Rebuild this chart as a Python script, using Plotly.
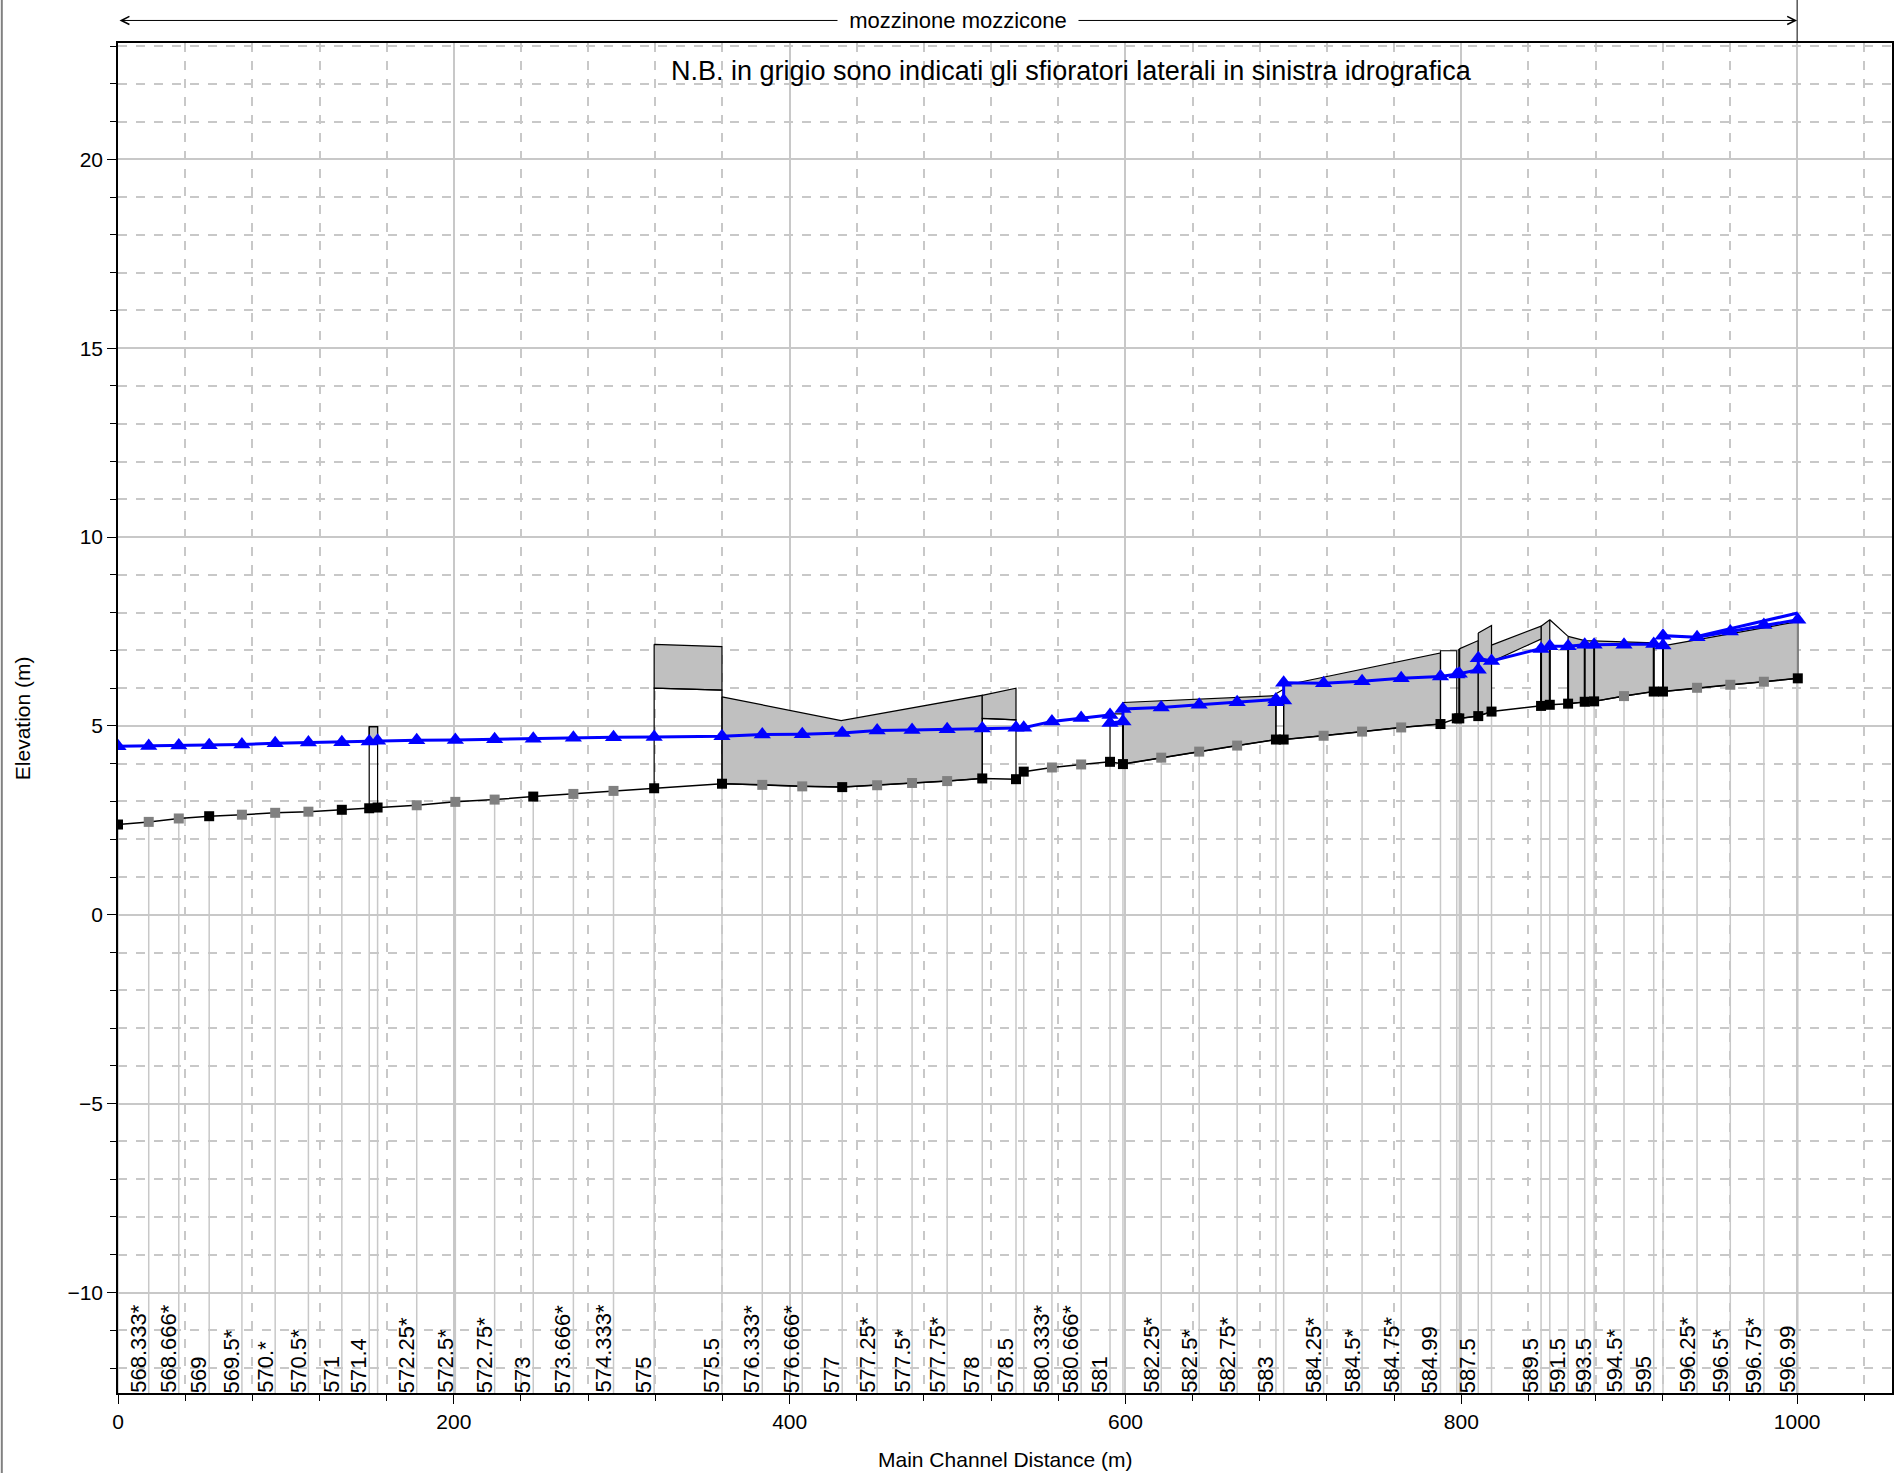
import numpy as np
import plotly.graph_objects as go

# river stations (main channel distance, m), bed elevation and labels
stations = [0.0, 18.3, 36.2, 54.3, 73.8, 93.6, 113.4, 133.3, 149.6, 154.6,
            177.9, 200.9, 224.3, 247.3, 271.2, 295.1, 319.3, 359.7, 383.7, 407.5,
            431.3, 452.1, 472.9, 493.8, 514.7, 534.8, 539.4, 556.2, 573.6, 590.8,
            598.5, 621.3, 643.9, 666.5, 689.6, 694.2, 718.0, 740.9, 764.2, 787.6,
            797.3, 798.8, 810.1, 818.0, 847.5, 852.7, 863.6, 873.5, 879.1, 896.9,
            914.6, 920.1, 940.4, 960.2, 980.2, 1000.4]
bed = [2.39, 2.46, 2.55, 2.61, 2.65, 2.70, 2.73, 2.78, 2.82, 2.84,
       2.90, 2.99, 3.05, 3.13, 3.20, 3.28, 3.35, 3.47, 3.44, 3.40,
       3.38, 3.43, 3.49, 3.54, 3.61, 3.59, 3.79, 3.90, 3.98, 4.05,
       3.99, 4.16, 4.32, 4.48, 4.64, 4.64, 4.74, 4.85, 4.96, 5.05,
       5.20, 5.20, 5.26, 5.38, 5.53, 5.56, 5.59, 5.64, 5.65, 5.79,
       5.91, 5.91, 6.01, 6.09, 6.17, 6.26]
labels = ["", "568.333*", "568.666*", "569", "569.5*", "570.*", "570.5*", "571", "571.4", "",
          "572.25*", "572.5*", "572.75*", "573", "573.666*", "574.333*", "575", "575.5", "576.333*", "576.666*",
          "577", "577.25*", "577.5*", "577.75*", "578", "578.5", "", "580.333*", "580.666*", "581",
          "", "582.25*", "582.5*", "582.75*", "583", "", "584.25*", "584.5*", "584.75*", "584.99",
          "", "", "587.5", "", "589.5", "", "591.5", "", "593.5", "594.5*",
          "595", "", "596.25*", "596.5*", "596.75*", "596.99"]

# water surface profile (doubled points at bridges)
ws_x = [0.0, 18.3, 36.2, 54.3, 73.8, 93.6, 113.4, 133.3, 149.6, 154.6,
        177.9, 200.9, 224.3, 247.3, 271.2, 295.1, 319.3, 359.7, 383.7, 407.5,
        431.3, 452.1, 472.9, 493.8, 514.7, 534.8, 539.4, 556.2, 573.6, 590.8,
        590.8, 598.5, 598.5, 621.3, 643.9, 666.5, 689.6, 689.6, 694.2, 694.2,
        718.0, 740.9, 764.2, 787.6, 797.3, 798.8, 810.1, 810.1, 818.0, 847.5,
        852.7, 863.6, 873.5, 879.1, 896.9, 914.6, 920.1, 920.1, 940.4, 960.2,
        980.2, 1000.4]
ws_y = [4.46, 4.47, 4.48, 4.49, 4.51, 4.54, 4.56, 4.57, 4.59, 4.61,
        4.62, 4.63, 4.65, 4.66, 4.69, 4.70, 4.71, 4.73, 4.77, 4.78,
        4.81, 4.88, 4.89, 4.91, 4.93, 4.95, 4.95, 5.12, 5.21, 5.29,
        5.08, 5.12, 5.45, 5.49, 5.56, 5.63, 5.70, 5.63, 5.67, 6.14,
        6.13, 6.18, 6.26, 6.31, 6.36, 6.38, 6.49, 6.79, 6.72, 7.04,
        7.11, 7.11, 7.15, 7.15, 7.15, 7.17, 7.13, 7.39, 7.35, 7.50,
        7.67, 7.81]
ws2_x = [940.4, 960.2, 980.2, 1000.4]
ws2_y = [7.37, 7.57, 7.77, 7.99]

# lateral weirs (crest down to the bed), gray
weirs = [
    ([359.7, 430.7, 514.7], [5.77, 5.14, 5.81]),
    ([598.5, 689.6], [5.62, 5.80]),
    ([694.2, 787.6], [6.07, 6.93]),
    ([798.8, 810.1], [7.04, 7.26]),
    ([810.1, 818.0], [7.46, 7.66]),
    ([847.5, 852.7], [7.64, 7.81]),
    ([863.6, 873.5, 914.6], [7.37, 7.26, 7.20]),
    ([920.1, 1000.4], [7.12, 7.76]),
]
# decks / bands (top and bottom chord), gray
decks = [
    ([149.6, 154.6], [4.98, 4.98], [4.60, 4.60]),
    ([319.3, 359.7], [7.16, 7.10], [6.00, 5.95]),
    ([514.7, 534.8], [5.81, 6.00], [5.20, 5.16]),
    ([818.0, 847.5], [7.14, 7.64], [6.70, 7.30]),
]
# open bridge boxes: (x left, x right, top left, top right)
boxes = [
    (149.6, 154.6, 4.98, 4.98),
    (319.3, 359.7, 6.00, 5.95),
    (514.7, 534.8, 5.20, 5.16),
    (590.8, 598.5, 5.32, 5.32),
    (689.6, 694.2, 5.85, 5.97),
    (787.6, 797.3, 6.99, 6.99),
]
# piers / walls from bed to water surface
walls = [598.5, 798.8, 847.5, 852.7, 863.6, 873.5, 879.1, 914.6, 920.1]
wall_top = [5.62, 7.04, 7.04, 7.11, 7.11, 7.15, 7.15, 7.17, 7.39]

YMIN, YMAX = -12.66, 23.08
XMIN, XMAX = 0, 1056.5
FONT = "Liberation Sans, Arial, sans-serif"

st = np.array(stations)
bd = np.array(bed)
gray_sq = [lab.endswith("*") for lab in labels]

fig = go.Figure()

# station lines below the bed
vx, vy = [], []
for s, b in zip(stations, bed):
    vx += [s, s, None]
    vy += [b, YMIN, None]
fig.add_trace(go.Scatter(x=vx, y=vy, mode="lines", line=dict(color="#c8c8c8", width=1.5),
                         hoverinfo="skip", showlegend=False))

# weirs
for wx, wy in weirs:
    mask = (st > wx[0]) & (st < wx[-1])
    px = list(wx) + [wx[-1]] + list(st[mask][::-1]) + [wx[0]]
    py = list(wy) + [float(np.interp(wx[-1], st, bd))] + list(bd[mask][::-1]) + [float(np.interp(wx[0], st, bd))]
    fig.add_trace(go.Scatter(x=px + [px[0]], y=py + [py[0]], mode="lines", fill="toself",
                             fillcolor="#c0c0c0", line=dict(color="black", width=1.2),
                             hoverinfo="skip", showlegend=False))
for dx, dt, db in decks:
    px = list(dx) + list(dx[::-1]) + [dx[0]]
    py = list(dt) + list(db[::-1]) + [dt[0]]
    fig.add_trace(go.Scatter(x=px, y=py, mode="lines", fill="toself",
                             fillcolor="#c0c0c0", line=dict(color="black", width=1.2),
                             hoverinfo="skip", showlegend=False))

# bridge boxes
bx, by = [], []
for x0, x1, t0, t1 in boxes:
    b0 = float(np.interp(x0, st, bd))
    b1 = float(np.interp(x1, st, bd))
    bx += [x0, x0, x1, x1, None]
    by += [b0, t0, t1, b1, None]
fig.add_trace(go.Scatter(x=bx, y=by, mode="lines", line=dict(color="black", width=1.2),
                         hoverinfo="skip", showlegend=False))
wx_, wy_ = [], []
for w, t in zip(walls, wall_top):
    wx_ += [w, w, None]
    wy_ += [float(np.interp(w, st, bd)), t, None]
fig.add_trace(go.Scatter(x=wx_, y=wy_, mode="lines", line=dict(color="black", width=2),
                         hoverinfo="skip", showlegend=False))
# right end of last weir
fig.add_trace(go.Scatter(x=[stations[-1], stations[-1]], y=[bed[-1], weirs[-1][1][-1]], mode="lines",
                         line=dict(color="#808080", width=2), hoverinfo="skip", showlegend=False))
# drop line after peak
fig.add_trace(go.Scatter(x=[852.7, 863.6], y=[7.81, 7.37], mode="lines",
                         line=dict(color="black", width=1.2), hoverinfo="skip", showlegend=False))

# bed profile
fig.add_trace(go.Scatter(x=stations, y=bed, mode="lines+markers",
                         line=dict(color="black", width=1.5),
                         marker=dict(symbol="square", size=10,
                                     color=["#808080" if g else "black" for g in gray_sq]),
                         hoverinfo="skip", showlegend=False))
# water surface
fig.add_trace(go.Scatter(x=ws2_x, y=ws2_y, mode="lines", line=dict(color="#0000ff", width=3),
                         hoverinfo="skip", showlegend=False))
fig.add_trace(go.Scatter(x=ws_x, y=ws_y, mode="lines+markers", line=dict(color="#0000ff", width=3),
                         marker=dict(symbol="triangle-up", size=15, color="#0000ff"),
                         hoverinfo="skip", showlegend=False))

# station labels
for s, lab in zip(stations, labels):
    if lab:
        fig.add_annotation(x=s, y=YMIN, text=lab, textangle=-90, showarrow=False,
                           xanchor="right", yanchor="bottom", xshift=4, yshift=-2,
                           font=dict(family=FONT, size=22, color="black"))

fig.add_annotation(x=568, y=22.33, text="N.B. in grigio sono indicati gli sfioratori laterali in sinistra idrografica",
                   showarrow=False, xanchor="center", yanchor="middle",
                   font=dict(family=FONT, size=27, color="black"))

# reach arrow above the plot
fig.add_annotation(x=1000, y=1.0167, xref="x", yref="paper", ax=0, ay=0, axref="x", ayref="pixel",
                   text="", showarrow=True, arrowhead=5, arrowside="end+start", arrowsize=1.6,
                   arrowwidth=1, arrowcolor="black")
fig.add_annotation(x=500, y=1.0167, xref="x", yref="paper", text="mozzinone mozzicone", showarrow=False,
                   xanchor="center", yanchor="middle", width=236, bgcolor="white", borderpad=2,
                   font=dict(family=FONT, size=22, color="black"))
fig.add_shape(type="line", xref="x", yref="paper", x0=1000, x1=1000, y0=1, y1=1.04,
              line=dict(color="black", width=1))
fig.add_shape(type="line", xref="paper", yref="paper", x0=-0.0655, x1=-0.0655, y0=-0.07, y1=1.04,
              line=dict(color="#808080", width=2))

fig.add_annotation(x=0.5, y=-0.049, xref="paper", yref="paper", text="Main Channel Distance (m)",
                   showarrow=False, xanchor="center", yanchor="middle",
                   font=dict(family=FONT, size=21, color="black"))
fig.add_annotation(x=-0.054, y=0.5, xref="paper", yref="paper", text="Elevation (m)", textangle=-90,
                   showarrow=False, xanchor="center", yanchor="middle",
                   font=dict(family=FONT, size=21, color="black"))

fig.update_layout(
    width=1897, height=1473,
    margin=dict(l=118, r=3, t=43, b=80),
    paper_bgcolor="white", plot_bgcolor="white",
    font=dict(family=FONT, size=21, color="black"),
    showlegend=False,
)
fig.update_xaxes(range=[XMIN, XMAX], dtick=200, tick0=0, showgrid=True, gridcolor="#c8c8c8", gridwidth=1.5,
                 minor=dict(dtick=40, showgrid=True, gridcolor="#c8c8c8", griddash="dash",
                            ticks="outside", ticklen=6, tickcolor="black"),
                 ticks="outside", ticklen=9, tickcolor="black", showline=True, linecolor="black",
                 linewidth=1.5, mirror=True, zeroline=False, tickfont=dict(size=21))
fig.update_yaxes(range=[YMIN, YMAX], dtick=5, tick0=0, showgrid=True, gridcolor="#c8c8c8", gridwidth=1.5,
                 minor=dict(dtick=1, showgrid=True, gridcolor="#c8c8c8", griddash="dash",
                            ticks="outside", ticklen=6, tickcolor="black"),
                 ticks="outside", ticklen=9, tickcolor="black", showline=True, linecolor="black",
                 linewidth=1.5, mirror=True, zeroline=False, tickfont=dict(size=21))

fig.write_html("out.html", config={"displayModeBar": False},
               post_script="document.body.style.margin='0';")
